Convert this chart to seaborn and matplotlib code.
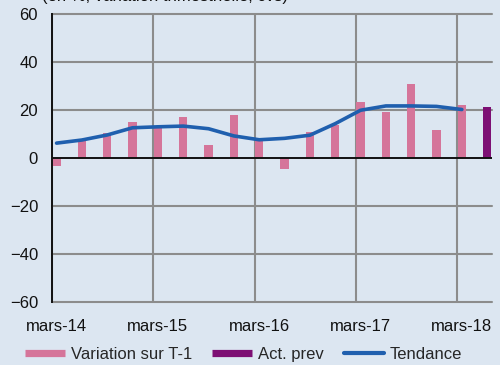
import matplotlib
matplotlib.use("Agg")
import matplotlib.pyplot as plt
from matplotlib.lines import Line2D
import numpy as np
import pandas as pd
import seaborn as sns

# Quarterly series, March 2014 to March 2018 (+ forecast for June 2018)
quarters = np.arange(17)
variation = [-3.2, 6.9, 10.6, 15.1, 12.8, 17.2, 5.5, 17.8, 8.5, -4.5,
             11.0, 13.7, 23.3, 19.0, 31.0, 11.8, 22.0]
forecast_quarter = [17]
forecast = [21.3]
tendance = [6.2, 7.5, 9.6, 12.6, 13.0, 13.3, 12.2, 9.2, 7.6, 8.2,
            9.5, 14.3, 19.9, 21.7, 21.7, 21.5, 20.2]
tick_positions = [0, 4, 8, 12, 16]
tick_labels = ["mars-14", "mars-15", "mars-16", "mars-17", "mars-18"]
y_ticks = [-60, -40, -20, 0, 20, 40, 60]

series_names = ["Variation sur T-1", "Act. prev", "Tendance"]
pink = "#d5759a"
purple = "#7d0f74"
blue = "#1f5fae"
bg = "#dce6f1"
grid_col = "#8c8c8c"

sns.set_theme(style="white")
plt.rcParams["font.family"] = ["Liberation Sans", "DejaVu Sans"]

bars = pd.DataFrame({
    "x": list(quarters) + forecast_quarter,
    "value": variation + forecast,
    "serie": [series_names[0]] * len(variation) + [series_names[1]] * len(forecast),
})
trend = pd.DataFrame({"x": quarters, "value": tendance})

fig = plt.figure(figsize=(5.0, 3.65), dpi=100, facecolor=bg)
ax = fig.add_axes([0.104, 0.1726, 0.880, 0.789])
ax.set_facecolor(bg)

# Grid: horizontal lines every 20, vertical lines once a year
ax.set_ylim(-60, 60)
ax.set_xlim(-0.18, 17.19)
ax.set_yticks(y_ticks)
ax.set_xticks(tick_positions)
for y in y_ticks:
    if y != 0:
        ax.axhline(y, color=grid_col, lw=1.5, zorder=0.5, clip_on=False)
for p in tick_positions:
    ax.axvline(p - 0.18, color=grid_col, lw=1.5, zorder=0.5)

sns.barplot(data=bars, x="x", y="value", hue="serie", native_scale=True,
            palette={series_names[0]: pink, series_names[1]: purple},
            width=0.33, dodge=False, legend=False, ax=ax,
            edgecolor="none", saturation=1, zorder=2)
for p in ax.patches:
    p.set_zorder(2)

sns.lineplot(data=trend, x="x", y="value", color=blue, lw=2.6, ax=ax,
             zorder=3, solid_capstyle="round")

ax.axhline(0, color="#111111", lw=1.4, zorder=2.5)

for s in ["top", "right", "bottom"]:
    ax.spines[s].set_visible(False)
ax.spines["left"].set_color("#111111")
ax.spines["left"].set_linewidth(1.4)
ax.spines["left"].set_zorder(4)

ax.set_xticklabels(tick_labels)
ax.set_xlabel("")
ax.set_ylabel("")
ax.tick_params(axis="both", which="both", length=0, labelsize=12,
               colors="#111111")
ax.tick_params(axis="y", pad=10)
ax.tick_params(axis="x", pad=12)

handles = [
    Line2D([], [], color=pink, lw=5.2, solid_capstyle="butt"),
    Line2D([], [], color=purple, lw=5.2, solid_capstyle="butt"),
    Line2D([], [], color=blue, lw=3.0, solid_capstyle="round"),
]
fig.legend(handles, series_names, loc="center", ncol=3,
           bbox_to_anchor=(0.487, 0.03), frameon=False, fontsize=12,
           handlelength=2.4, handletextpad=0.36, columnspacing=1.2)

fig.text(0.084, 1 - 0.5 / 365, "(en %, variation trimestrielle, cvs)",
         fontsize=12, va="baseline", ha="left", color="#111111")

fig.savefig("out.png", dpi=100, facecolor=bg)
